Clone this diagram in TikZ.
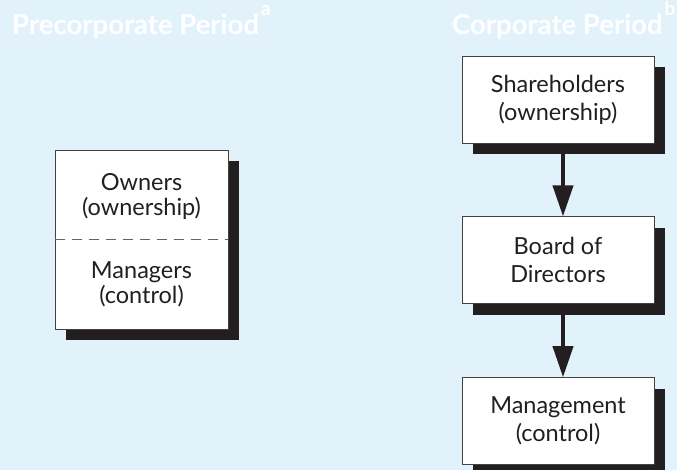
\documentclass[tikz,border=0pt]{standalone}
\usepackage{fontspec}
\setmainfont{Lato}
\usetikzlibrary{positioning,shadows,arrows.meta}
\definecolor{pagebg}{HTML}{E1F2FB}
\definecolor{ink}{HTML}{231F20}
\newcommand{\notemark}[1]{\kern2pt\raisebox{19pt}{\fontsize{19}{19}\selectfont #1}}

\begin{document}
\begin{tikzpicture}[x=1pt, y=-1pt,
  period/.style = {text = white, font = \bfseries\fontsize{27.5}{32}\selectfont, anchor = base west, inner sep = 0pt},
  label/.style = {text = ink, align = center, font = \fontsize{23.5}{25}\selectfont},
  box/.style = {draw = ink!85, line width = 0.8pt, fill = white, shape = rectangle, text = ink, align = center,
    font = \fontsize{23.5}{28}\selectfont, minimum width = 192pt, minimum height = 87pt,
    drop shadow = {shadow xshift = 11pt, shadow yshift = -11pt, fill = ink, opacity = 1}},
  flow/.style = {draw = ink, line width = 4pt, -{Triangle[length = 31pt, width = 20pt]}}]
\fill[pagebg] (0,0) rectangle (677,470);
\useasboundingbox (0,0) rectangle (677,470);

\node[period] (pre)  at (12,35)  {Precorporate Period\notemark{a}};
\node[period] (corp) at (452,35) {Corporate Period\notemark{b}};

% precorporate firm
\node[box, minimum width = 173pt, minimum height = 179pt] (firm) at (141.5,239.5) {};
\draw[ink!70, line width = 0.8pt, dash pattern = on 10pt off 7pt] (firm.west) -- (firm.east);
\node[label] (owners)   at (141.5,197) {Owners\\(ownership)};
\node[label] (managers) at (141.5,284) {Managers\\(control)};

% corporate firm
\node[box] (share) at (558,99.5) {Shareholders\\(ownership)};
\node[box, below = 73pt of share] (board) {Board of\\Directors};
\node[box, below = 73pt of board] (mgmt)  {Management\\(control)};

\draw[flow] ([xshift = 5pt, yshift = -11pt]share.south) -- ([xshift = 5pt]board.north);
\draw[flow] ([xshift = 5pt, yshift = -11pt]board.south) -- ([xshift = 5pt]mgmt.north);
\end{tikzpicture}
\end{document}
